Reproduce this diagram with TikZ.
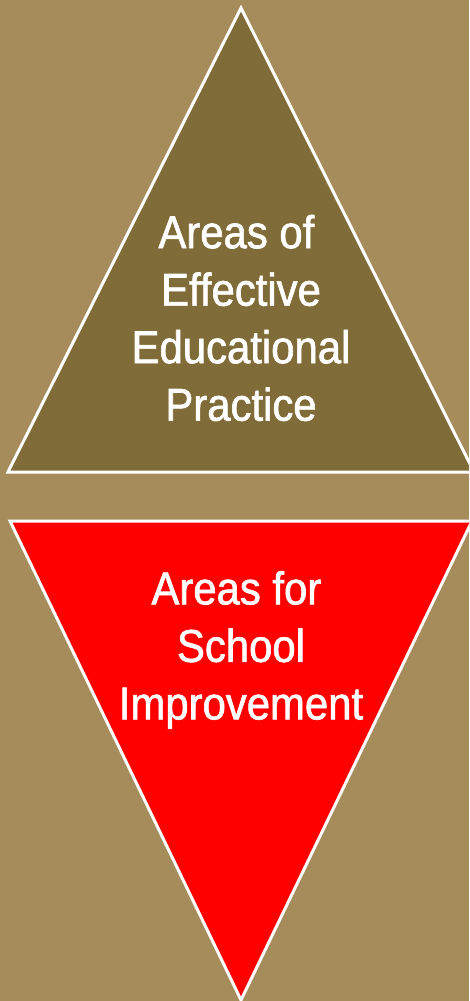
\documentclass[tikz,border=0pt]{standalone}
\usepackage{fontspec}
\setmainfont{Liberation Sans}[FakeStretch=0.91,FakeBold=1.4]
\usepackage{xcolor}
\usepackage{tikz}
\usetikzlibrary{positioning,calc}

\definecolor{tanbg}{HTML}{A68B5B}
\definecolor{olivefill}{HTML}{806C38}
\definecolor{redfill}{HTML}{FF0000}

\tikzset{
	tri/.style={draw=white,line width=3pt,line join=miter},
	label/.style={text=white,align=center,inner sep=0pt,font=\fontsize{46}{57.5}\selectfont}
}

\begin{document}
\begin{tikzpicture}[x=1pt,y=-1pt]
			% fond
			\fill[tanbg] (0,0) rectangle (469,1001);
			\useasboundingbox (0,0) rectangle (469,1001);
			\clip (0,0) rectangle (469,1001);
			
			% triangle du haut
			\fill[olivefill,tri] (241,8) -- (474,472) -- (8,472) -- cycle;
			\node[label] (topText) at (241,318) {Areas of\hspace*{0.2em}\\ Effective\\ Educational\\ Practice};
			
			% triangle du bas
			\fill[redfill,tri] (10,521) -- (472,521) -- (241,1000) -- cycle;
			\node[label] (bottomText) at (241,650) {Areas for\hspace*{0.2em}\\ School\\ Improvement};
		\end{tikzpicture}
\end{document}
